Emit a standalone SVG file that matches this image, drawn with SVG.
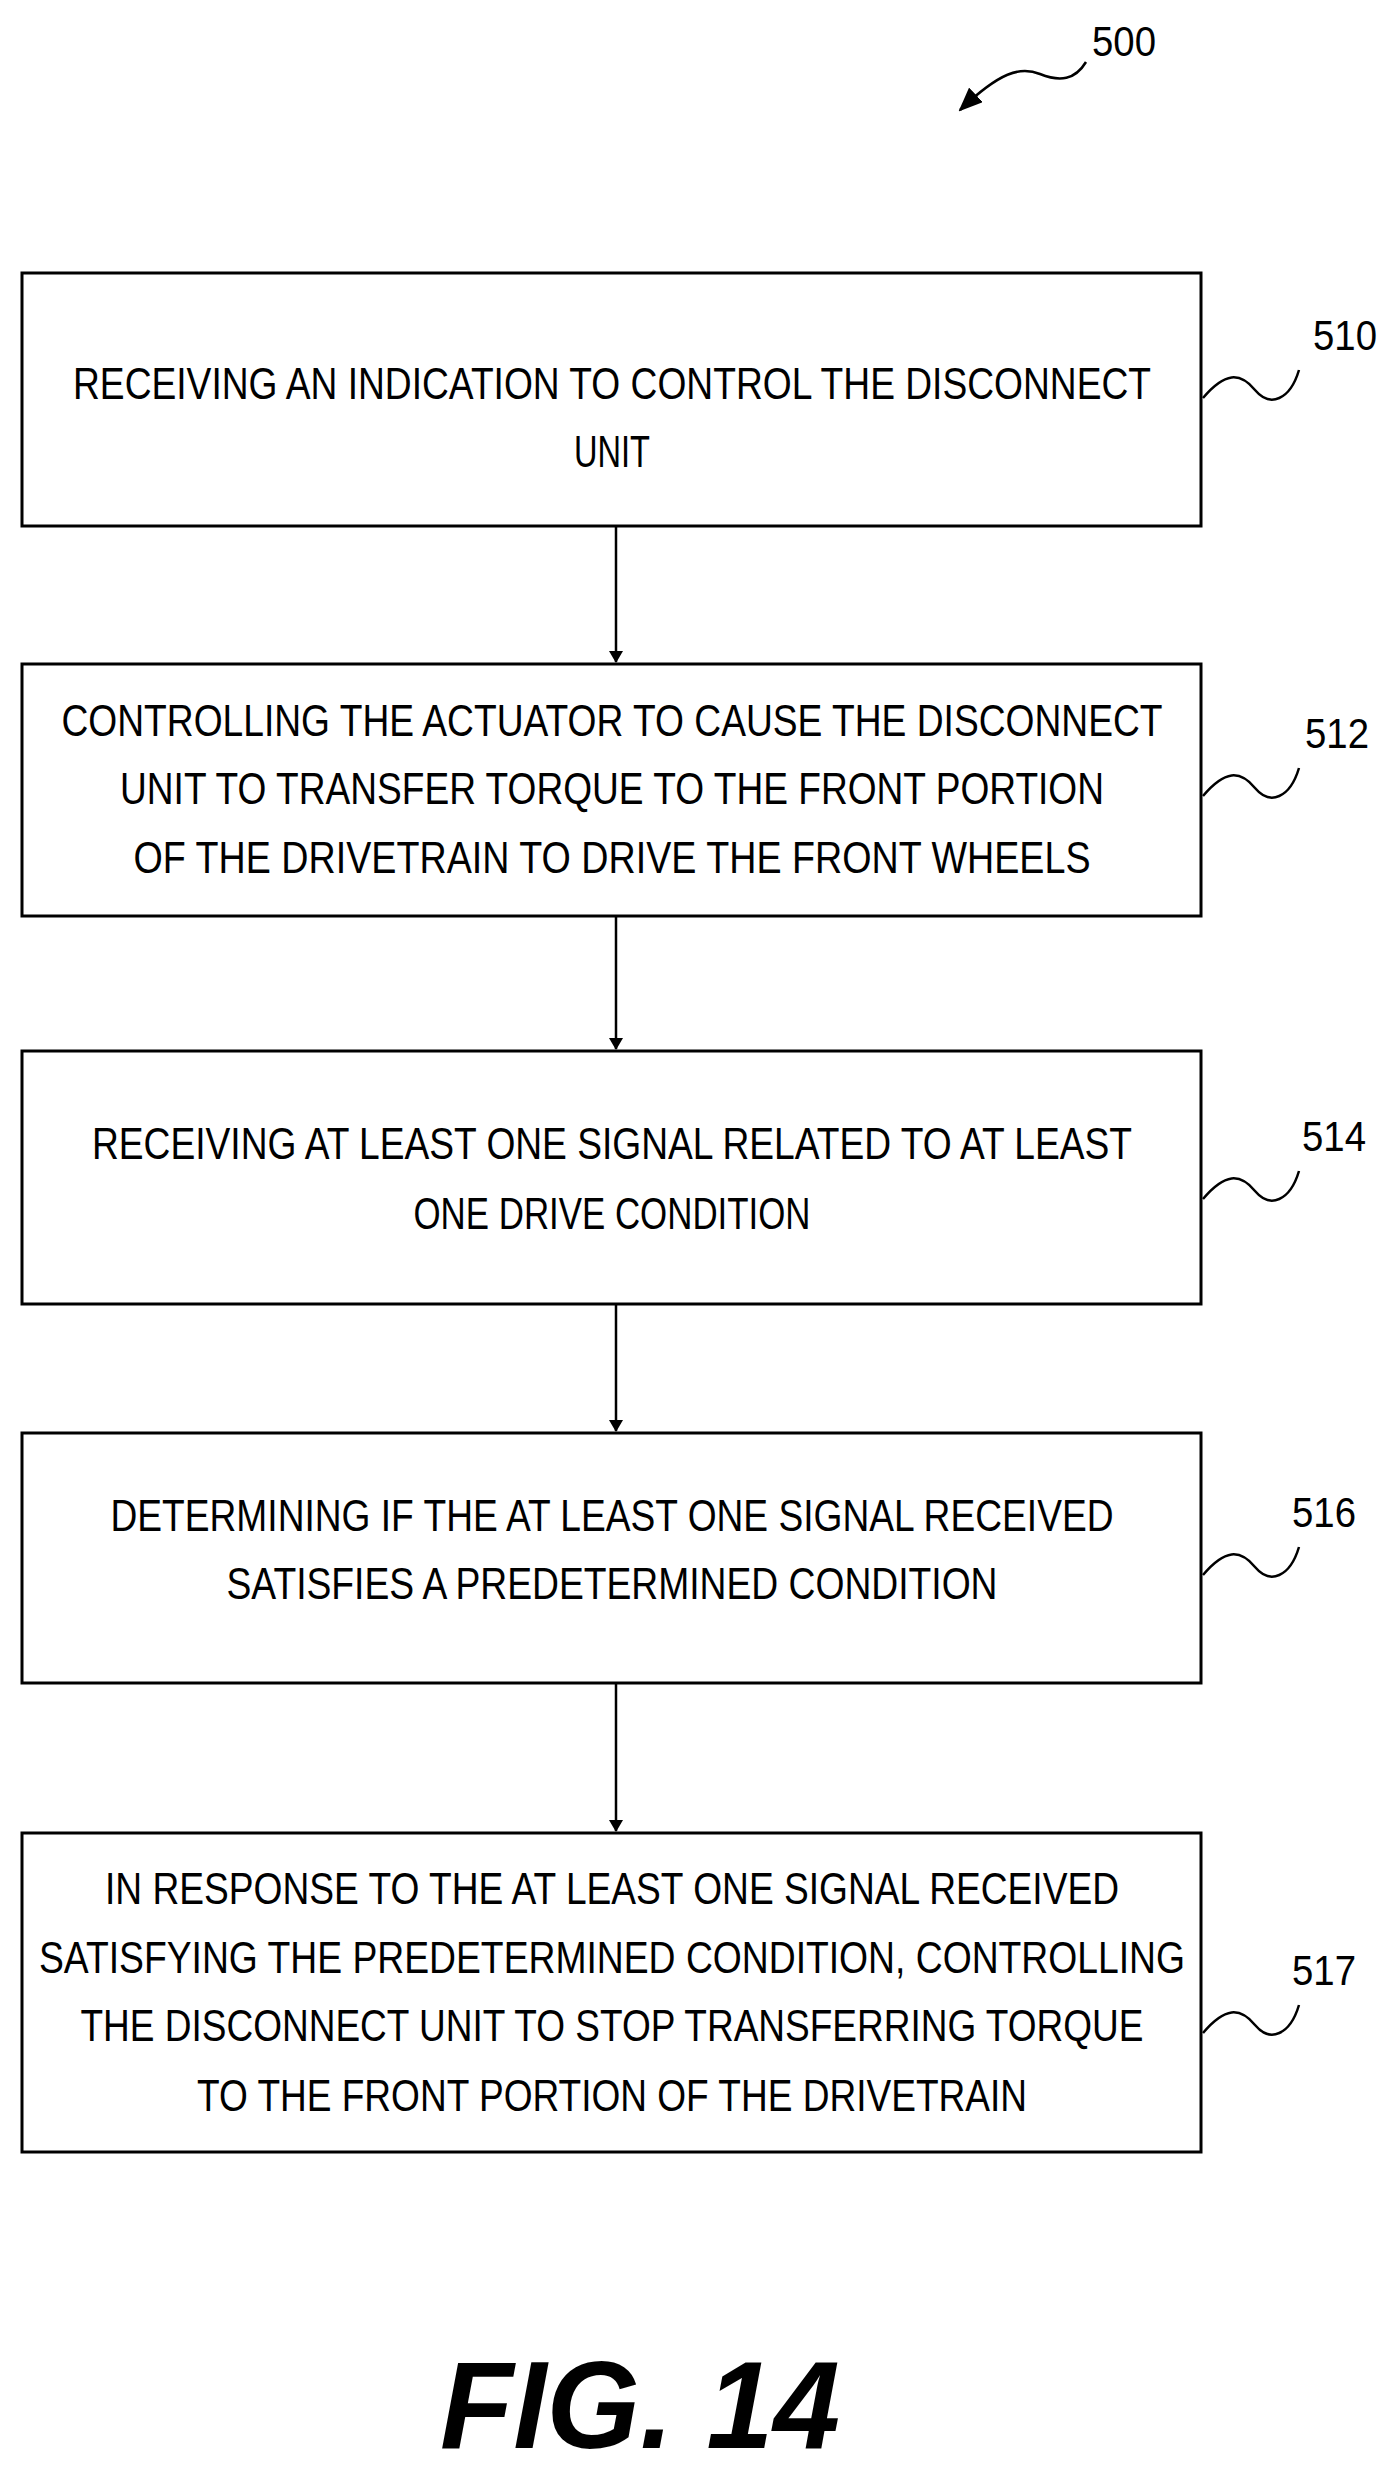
<svg xmlns="http://www.w3.org/2000/svg" width="1390" height="2475" viewBox="0 0 1390 2475">
<style>
.box{fill:#fff;stroke:#000;stroke-width:3}
.t{font-family:"Liberation Sans",Arial,sans-serif;font-size:44px;text-anchor:middle;fill:#000}
.lb{font-family:"Liberation Sans",Arial,sans-serif;font-size:42px;text-anchor:middle;fill:#000}
.w{fill:none;stroke:#000;stroke-width:2.5}
.c{stroke:#000;stroke-width:2.5;fill:none}
</style>
<defs><marker id="ah" markerWidth="12" markerHeight="14" refX="11" refY="7" orient="auto" markerUnits="userSpaceOnUse"><path d="M0,0 L12,7 L0,14 Z" fill="#000"/></marker>
<marker id="ah2" markerWidth="24" markerHeight="20" refX="22" refY="10" orient="auto" markerUnits="userSpaceOnUse"><path d="M0,0 L24,10 L0,20 Z" fill="#000"/></marker></defs>
<g id="ref500">
<text class="lb" x="1124" y="56" textLength="64" lengthAdjust="spacingAndGlyphs">500</text>
<path class="w" marker-end="url(#ah2)" d="M1086,62 C1075,80 1060,82 1040,74 C1020,66 1000,72 960,110"/>
</g>
<g id="n510">
<rect class="box" x="22" y="273" width="1179" height="253"/>
<text class="t" x="612" y="399" textLength="1078" lengthAdjust="spacingAndGlyphs">RECEIVING AN INDICATION TO CONTROL THE DISCONNECT</text>
<text class="t" x="612" y="467" textLength="76" lengthAdjust="spacingAndGlyphs">UNIT</text>
<text class="lb" x="1345" y="350" textLength="64" lengthAdjust="spacingAndGlyphs">510</text>
<path class="w" d="M1203,398 C1225,372 1240,372 1255,390 C1270,408 1290,400 1299,370"/>
</g>
<g id="n512">
<rect class="box" x="22" y="664" width="1179" height="252"/>
<text class="t" x="612" y="736" textLength="1101" lengthAdjust="spacingAndGlyphs">CONTROLLING THE ACTUATOR TO CAUSE THE DISCONNECT</text>
<text class="t" x="612" y="804" textLength="984" lengthAdjust="spacingAndGlyphs">UNIT TO TRANSFER TORQUE TO THE FRONT PORTION</text>
<text class="t" x="612" y="873" textLength="957" lengthAdjust="spacingAndGlyphs">OF THE DRIVETRAIN TO DRIVE THE FRONT WHEELS</text>
<text class="lb" x="1337" y="748" textLength="64" lengthAdjust="spacingAndGlyphs">512</text>
<path class="w" d="M1203,796 C1225,770 1240,770 1255,788 C1270,806 1290,798 1299,768"/>
</g>
<g id="n514">
<rect class="box" x="22" y="1051" width="1179" height="253"/>
<text class="t" x="612" y="1159" textLength="1040" lengthAdjust="spacingAndGlyphs">RECEIVING AT LEAST ONE SIGNAL RELATED TO AT LEAST</text>
<text class="t" x="612" y="1229" textLength="397" lengthAdjust="spacingAndGlyphs">ONE DRIVE CONDITION</text>
<text class="lb" x="1334" y="1151" textLength="64" lengthAdjust="spacingAndGlyphs">514</text>
<path class="w" d="M1203,1199 C1225,1173 1240,1173 1255,1191 C1270,1209 1290,1201 1299,1171"/>
</g>
<g id="n516">
<rect class="box" x="22" y="1433" width="1179" height="250"/>
<text class="t" x="612" y="1531" textLength="1003" lengthAdjust="spacingAndGlyphs">DETERMINING IF THE AT LEAST ONE SIGNAL RECEIVED</text>
<text class="t" x="612" y="1599" textLength="771" lengthAdjust="spacingAndGlyphs">SATISFIES A PREDETERMINED CONDITION</text>
<text class="lb" x="1324" y="1527" textLength="64" lengthAdjust="spacingAndGlyphs">516</text>
<path class="w" d="M1203,1575 C1225,1549 1240,1549 1255,1567 C1270,1585 1290,1577 1299,1547"/>
</g>
<g id="n517">
<rect class="box" x="22" y="1833" width="1179" height="319"/>
<text class="t" x="612" y="1904" textLength="1014" lengthAdjust="spacingAndGlyphs">IN RESPONSE TO THE AT LEAST ONE SIGNAL RECEIVED</text>
<text class="t" x="612" y="1973" textLength="1146" lengthAdjust="spacingAndGlyphs">SATISFYING THE PREDETERMINED CONDITION, CONTROLLING</text>
<text class="t" x="612" y="2041" textLength="1063" lengthAdjust="spacingAndGlyphs">THE DISCONNECT UNIT TO STOP TRANSFERRING TORQUE</text>
<text class="t" x="612" y="2111" textLength="830" lengthAdjust="spacingAndGlyphs">TO THE FRONT PORTION OF THE DRIVETRAIN</text>
<text class="lb" x="1324" y="1985" textLength="64" lengthAdjust="spacingAndGlyphs">517</text>
<path class="w" d="M1203,2033 C1225,2007 1240,2007 1255,2025 C1270,2043 1290,2035 1299,2005"/>
</g>
<g id="connectors">
<line class="c" x1="616" y1="526" x2="616" y2="662" marker-end="url(#ah)"/>
<line class="c" x1="616" y1="916" x2="616" y2="1049" marker-end="url(#ah)"/>
<line class="c" x1="616" y1="1304" x2="616" y2="1431" marker-end="url(#ah)"/>
<line class="c" x1="616" y1="1683" x2="616" y2="1831" marker-end="url(#ah)"/>
</g>
<text x="640" y="2448" font-family="Liberation Sans,Arial,sans-serif" font-size="124" font-weight="bold" font-style="italic" text-anchor="middle" fill="#000" textLength="400" lengthAdjust="spacingAndGlyphs">FIG. 14</text>
</svg>
